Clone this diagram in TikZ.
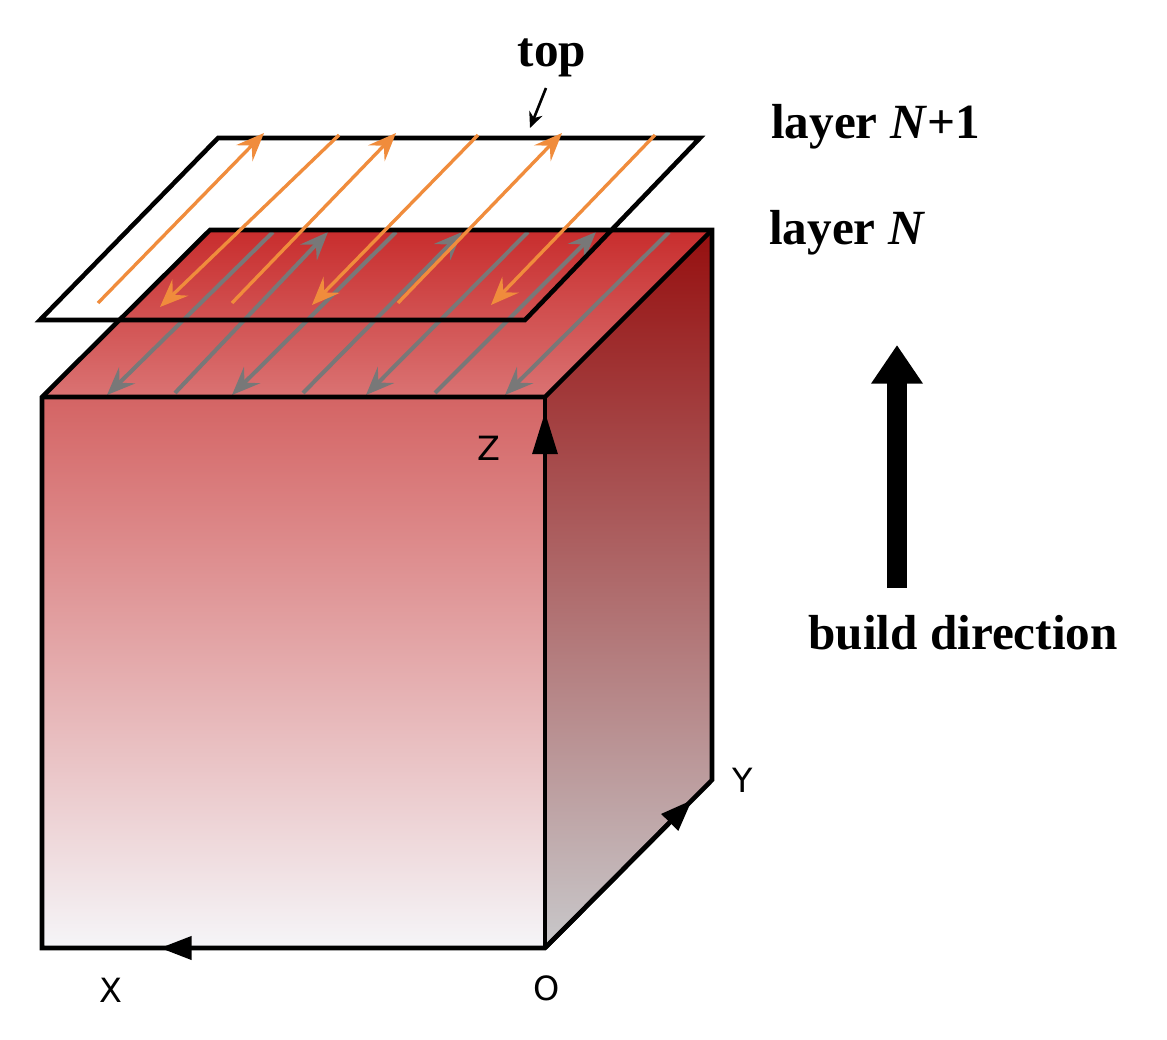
\documentclass[tikz,border=0pt]{standalone}
\usepackage{fontspec}
\setmainfont{Liberation Serif}
\newfontfamily\axfont{DejaVu Sans}
\usetikzlibrary{arrows.meta}
\definecolor{orng}{RGB}{240,140,60}
\definecolor{gry}{RGB}{120,120,120}
\begin{document}
\begin{tikzpicture}[x=0.02cm,y=-0.02cm,
  edge/.style={line width=2.6pt,line join=miter},
  orarr/.style={orng,line width=1.9pt,-{Stealth[length=16pt,width=13pt,inset=6pt]}},
  grarr/.style={gry,line width=2.3pt,-{Stealth[length=16pt,width=13pt,inset=6pt]}},
  lbl/.style={font=\bfseries\fontsize{28}{30}\selectfont},
  axl/.style={font=\axfont\fontsize{19}{20}\selectfont}]
\useasboundingbox (0,0) rectangle (1167,1040);
% cube coordinates
\coordinate (A) at (42,397); \coordinate (B) at (545,397);
\coordinate (C) at (545,948); \coordinate (D) at (42,948);
\coordinate (E) at (210,230); \coordinate (F) at (712,230);
\coordinate (G) at (712,780);
% faces
\shade[top color={rgb,255:red,212;green,100;blue,100}, bottom color={rgb,255:red,245;green,245;blue,248}] (A)--(B)--(C)--(D)--cycle;
\shade[top color={rgb,255:red,200;green,45;blue,45}, bottom color={rgb,255:red,218;green,115;blue,115}] (A)--(E)--(F)--(B)--cycle;
\shade[top color={rgb,255:red,150;green,15;blue,15}, bottom color={rgb,255:red,200;green,200;blue,202}] (B)--(F)--(G)--(C)--cycle;
% layer N+1 plate
\coordinate (P1) at (40,320); \coordinate (P2) at (218,138);
\coordinate (P3) at (700,138); \coordinate (P4) at (525,320);
\fill[white] (P1)--(P2)--(P3)--(611.5,230)--(E)--(120,320)--cycle;
% gray scan arrows on layer N
\draw[grarr] (273,232)--(107,395);
\draw[grarr] (175,393)--(328,232);
\draw[grarr] (396,232)--(232,395);
\draw[grarr] (303,393)--(462,232);
\draw[grarr] (528,232)--(366,395);
\draw[grarr] (435,393)--(596,232);
\draw[grarr] (669,232)--(505,395);
% cube edges
\draw[edge] (A)--(E)--(F)--(G)--(C)--(D)--cycle;
\draw[edge] (A)--(B)--(F);
\draw[edge] (C)--(B);
\draw[edge,-{Triangle[length=24pt,width=14pt]}] (545,470)--(545,412);
\draw[edge,-{Triangle[length=18pt,width=13pt]}] (C)--(160,948);
\draw[edge,-{Triangle[length=18pt,width=13pt]}] (C)--(692,800);
\draw[edge] (P1)--(P2)--(P3)--(P4)--cycle;
% orange scan arrows on layer N+1
\draw[orarr] (98,303)--(264,133);
\draw[orarr] (339,135)--(160,307);
\draw[orarr] (232,303)--(396,133);
\draw[orarr] (478,135)--(312,305);
\draw[orarr] (398,303)--(562,133);
\draw[orarr] (655,135)--(491,305);
% build direction arrow
\draw[line width=11pt,-{Triangle[length=22pt,width=28pt]}] (897,588)--(897,345);
% labels
\node[lbl] (top) at (552,58) {top};
\coordinate (topend) at (530,128);
\draw[line width=1.5pt,-{Stealth[length=9pt,width=8pt]}] (546,88)--(topend);
\node[lbl,anchor=west] (l1) at (765,127) {layer \textit{N}+1};
\node[lbl,anchor=west] (l0) at (763,233) {layer \textit{N}};
\node[lbl] (bd) at (963,633) {build direction};
\node[axl] (z) at (489,448) {Z};
\node[axl] (y) at (743,780) {Y};
\node[axl] (x) at (111,990) {X};
\node[axl] (o) at (547,988) {O};
\end{tikzpicture}
\end{document}
